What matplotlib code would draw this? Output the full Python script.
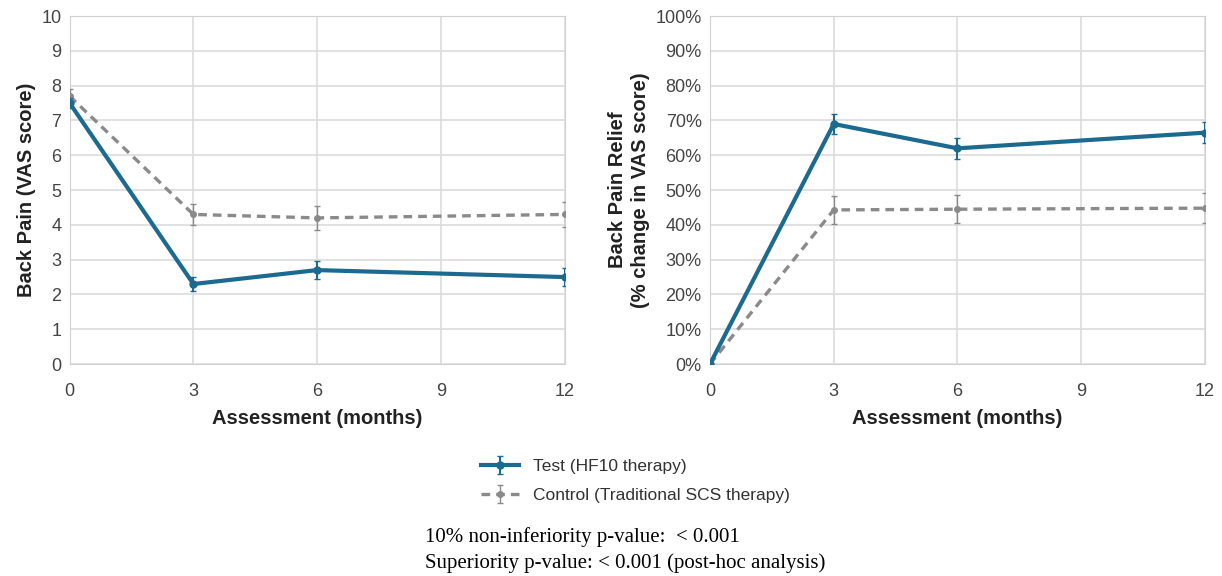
import matplotlib
matplotlib.use("Agg")
import matplotlib.pyplot as plt
from matplotlib.ticker import PercentFormatter

plt.rcParams['font.family'] = ['Liberation Sans', 'DejaVu Sans']

# assessment months
months = [0, 3, 6, 12]
xticks = [0, 3, 6, 9, 12]

# back pain VAS score
test_vas = [7.5, 2.3, 2.7, 2.5]
test_vas_err = [0.15, 0.2, 0.25, 0.25]
ctrl_vas = [7.7, 4.3, 4.2, 4.3]
ctrl_vas_err = [0.2, 0.3, 0.35, 0.35]

# back pain relief (% change)
test_rel = [0, 69, 62, 66.5]
test_rel_err = [0, 2.8, 3.0, 3.0]
ctrl_rel = [0, 44.3, 44.5, 44.8]
ctrl_rel_err = [0, 4.0, 4.0, 4.3]

blue = "#1c6a8f"
gray = "#8a8a8a"

fig = plt.figure(figsize=(12.22, 5.76), dpi=100)
ax1 = fig.add_axes([0.057, 0.368, 0.405, 0.604])
ax2 = fig.add_axes([0.581, 0.368, 0.405, 0.604])


def style(ax):
    ax.set_xlim(0, 12)
    ax.set_xticks(xticks)
    ax.grid(True, color="#dcdcdc", linewidth=1.2)
    ax.set_axisbelow(True)
    for s in ax.spines.values():
        s.set_color("#d0d0d0")
    ax.tick_params(length=0, labelsize=13, colors="#444444")
    ax.tick_params(axis="x", pad=14)
    ax.tick_params(axis="y", pad=6)
    ax.set_xlabel("Assessment (months)", fontsize=14.5, fontweight="bold", color="#222222", labelpad=6)


ax1.errorbar(months, ctrl_vas, yerr=ctrl_vas_err, color=gray, linestyle=(0, (2.6, 1.8)), linewidth=2.4,
             marker="o", markersize=4, capsize=2, elinewidth=1, zorder=3,
             label="Control (Traditional SCS therapy)")
ax1.errorbar(months, test_vas, yerr=test_vas_err, color=blue, linewidth=3,
             marker="o", markersize=5, capsize=2, elinewidth=1.5, zorder=4,
             label="Test (HF10 therapy)")
style(ax1)
ax1.set_ylim(0, 10)
ax1.set_yticks(range(0, 11))
ax1.set_ylabel("Back Pain (VAS score)", fontsize=14.5, fontweight="bold", color="#222222", labelpad=4)

ax2.errorbar(months, ctrl_rel, yerr=ctrl_rel_err, color=gray, linestyle=(0, (2.6, 1.8)), linewidth=2.4,
             marker="o", markersize=4, capsize=2, elinewidth=1, zorder=3)
ax2.errorbar(months, test_rel, yerr=test_rel_err, color=blue, linewidth=3,
             marker="o", markersize=5, capsize=2, elinewidth=1.5, zorder=4)
style(ax2)
ax2.set_ylim(0, 100)
ax2.set_yticks(range(0, 101, 10))
ax2.yaxis.set_major_formatter(PercentFormatter(decimals=0))
ax2.set_ylabel("Back Pain Relief\n(% change in VAS score)", fontsize=14.5, fontweight="bold",
               color="#222222", labelpad=4, linespacing=1.25)

handles, labels = ax1.get_legend_handles_labels()
fig.legend(handles[::-1], labels[::-1], loc="center", bbox_to_anchor=(0.52, 0.165),
           frameon=False, fontsize=12.5, handlelength=2.2, labelspacing=0.8,
           labelcolor="#333333")

fig.text(0.348, 0.068, "10% non-inferiority p-value:  < 0.001", fontsize=15,
         family=["Liberation Serif", "DejaVu Serif"], ha="left", va="center")
fig.text(0.348, 0.022, "Superiority p-value: < 0.001 (post-hoc analysis)", fontsize=15,
         family=["Liberation Serif", "DejaVu Serif"], ha="left", va="center")

fig.savefig("out.png", dpi=100)
